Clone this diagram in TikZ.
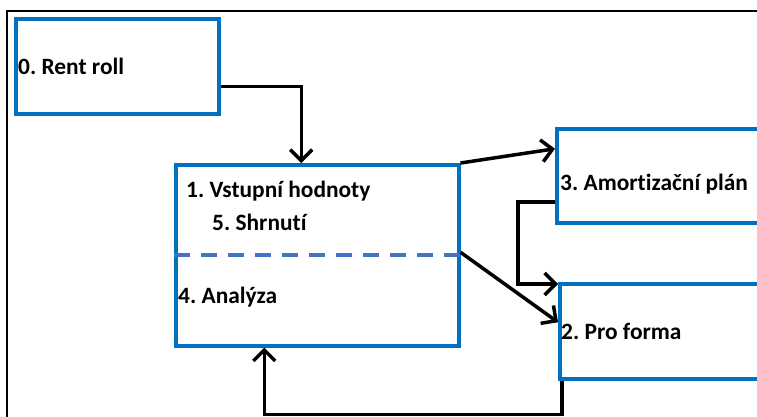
\documentclass[tikz,border=0pt]{standalone}
\usepackage{fontspec}
\setmainfont{Carlito}[Ligatures={NoCommon}]
\usepackage{tikz}
\usetikzlibrary{arrows.meta}
\usetikzlibrary{positioning}
\usetikzlibrary{calc}
\definecolor{boxblue}{RGB}{0,112,192}
\definecolor{dashblue}{RGB}{68,114,196}
\frenchspacing
\tikzset{
	stepbox/.style={draw=boxblue, line width=3.5pt, rectangle, inner sep=0pt, anchor=north west},
	flow/.style={draw=black, line width=3.5pt, -{Straight Barb[length=11pt,width=22pt,line width=3.5pt]}},
	divider/.style={draw=dashblue, line width=3.5pt, dash pattern=on 16pt off 11pt},
	boxtext/.style={anchor=west, inner sep=0pt, font=\fontsize{23.4}{27}\selectfont\bfseries},
}
\begin{document}
\begin{tikzpicture}[x=1pt, y=-1pt]
	\useasboundingbox (0,0) rectangle (757,416);
	\clip (0,0) rectangle (757,416);
	\draw[line width=2pt] (7,11) rectangle (790,440);
	% boxes
	\node[stepbox, minimum width=203, minimum height=95] (rent) at (14,17) {};
	\node[stepbox, minimum width=283, minimum height=181] (vstup) at (174,163) {};
	\node[stepbox, minimum width=215, minimum height=94] (amort) at (555,127) {};
	\node[stepbox, minimum width=212, minimum height=95] (proforma) at (558,282) {};
	% texts
	\node[boxtext] (rentroll) at ([xshift=4pt]rent.west) {0. Rent roll};
	\node[boxtext] (plan) at ([xshift=5pt,yshift=-8pt]amort.west) {3. Amortizační plán};
	\node[boxtext] (forma) at ([xshift=3pt]proforma.west) {2. Pro forma};
	\node[boxtext] (hodnoty) at (186,191) {1. Vstupní hodnoty};
	\node[boxtext] (shrnuti) at (212,222) {5. Shrnutí};
	\node[boxtext] (analyza) at (178,297) {4. Analýza};
	\draw[divider] (vstup.west |- 0,255) -- (vstup.east |- 0,255);
	% connectors
	\draw[flow] ([yshift=-20pt]rent.east) -| ([xshift=-16pt]vstup.north);
	\draw[flow] (vstup.north east) -- ([yshift=27pt]amort.west);
	\draw[flow] ([yshift=3pt]vstup.east) -- ([yshift=9pt]proforma.west);
	\draw[flow] ([yshift=-26pt]amort.west) -- ++(-37,0) |- ([yshift=-2pt]proforma.north west);
	\draw[flow] ([xshift=4pt]proforma.south west) -- ++(0,34) -| ([xshift=-53pt]vstup.south);
\end{tikzpicture}
\end{document}
